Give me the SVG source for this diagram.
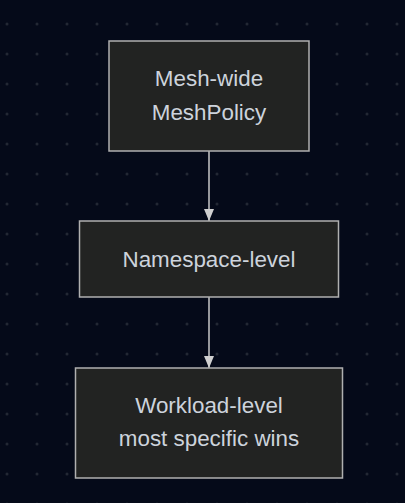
<svg xmlns="http://www.w3.org/2000/svg" width="405" height="503" viewBox="0 0 405 503">
<defs>
<pattern id="dots" x="0" y="0" width="30" height="30" patternUnits="userSpaceOnUse">
<circle cx="7" cy="24" r="1.5" fill="#232834"/>
</pattern>
<marker id="arrow" viewBox="0 0 12 10" refX="12" refY="5" markerWidth="12" markerHeight="10" markerUnits="userSpaceOnUse" orient="auto">
<path d="M0,0 L12,5 L0,10 Z" fill="#d0d0d0"/>
</marker>
<style>
.box{fill:#222322;stroke:#b0b0b0;stroke-width:1.5}
.lbl{font-family:"Liberation Sans",Arial,sans-serif;font-size:22.4px;fill:#cdd3dc;text-anchor:middle}
.edge{stroke:#c8c8c8;stroke-width:1.5;fill:none}
</style>
</defs>
<rect width="405" height="503" fill="#050a19"/>
<rect width="405" height="503" fill="url(#dots)"/>
<g id="connectors">
<path class="edge" d="M209,151 L209,221" marker-end="url(#arrow)"/>
<path class="edge" d="M209,297 L209,368" marker-end="url(#arrow)"/>
</g>
<g id="mesh">
<rect class="box" x="109" y="41" width="200" height="110"/>
<text class="lbl" x="209" y="86">Mesh-wide</text>
<text class="lbl" x="209" y="119.5">MeshPolicy</text>
</g>
<g id="namespace">
<rect class="box" x="79.5" y="221" width="259" height="76"/>
<text class="lbl" x="209" y="266.5">Namespace-level</text>
</g>
<g id="workload">
<rect class="box" x="75.5" y="368" width="267" height="110"/>
<text class="lbl" x="209" y="412.5">Workload-level</text>
<text class="lbl" x="209" y="446">most specific wins</text>
</g>
</svg>
